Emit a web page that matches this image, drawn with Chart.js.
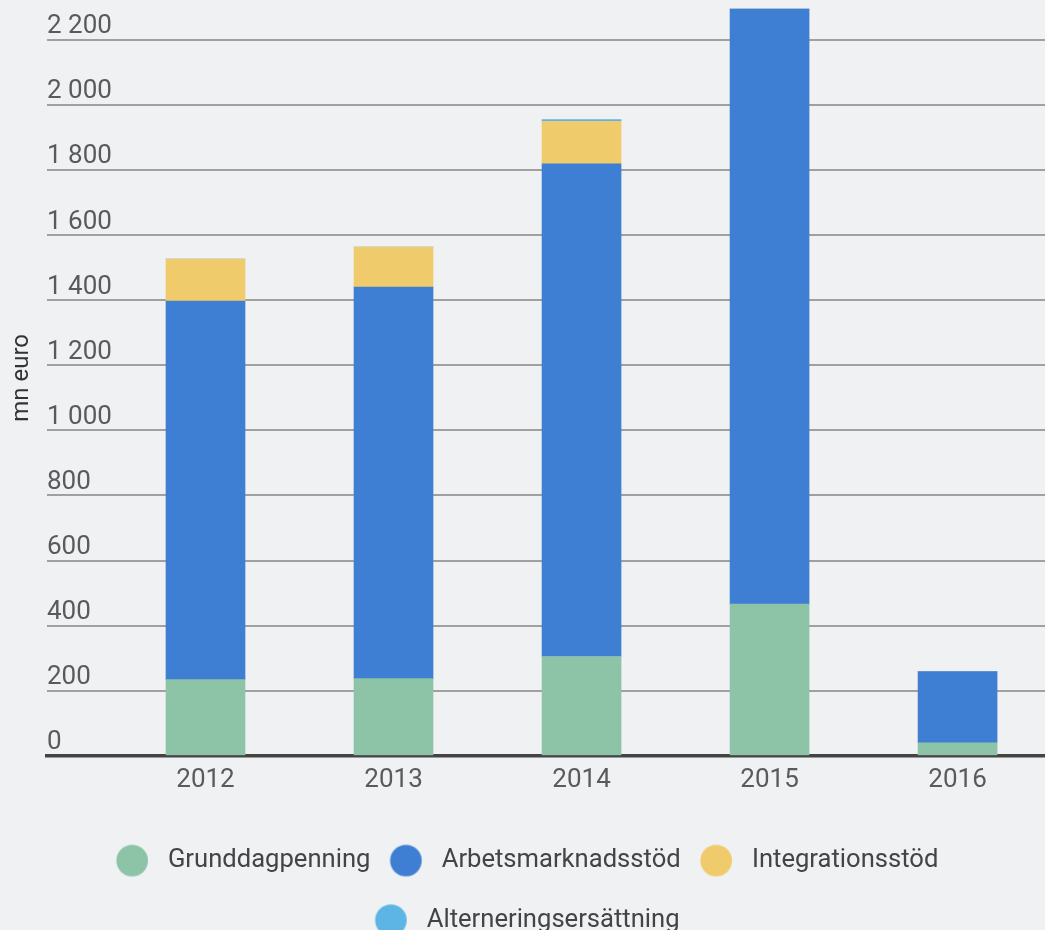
<!DOCTYPE html>
<html>
<head>
<meta charset="utf-8">
<script src="https://cdn.jsdelivr.net/npm/chart.js@4/dist/chart.umd.min.js"></script>
<style>
  html, body { margin: 0; padding: 0; background: #f0f1f3; overflow: hidden; }
  /* the reference cuts the second legend row, so the chart is a bit taller than the window */
  #wrap { width: 1045px; height: 943px; }
</style>
</head>
<body>
<div id="wrap"><canvas id="chart"></canvas></div>
<script>
// chart data
const years = [2012, 2013, 2014, 2015, 2016];
const grunddagpenning = [234, 237, 305, 466, 40];
const arbetsmarknadsstod = [1163, 1203, 1514, 1828, 219];
const integrationsstod = [129, 123, 130, 0, 0];
const alterneringsersattning = [0, 0, 6, 0, 0];
const yTicks = [0, 200, 400, 600, 800, 1000, 1200, 1400, 1600, 1800, 2000, 2200];

const seriesNames = ["Grunddagpenning", "Arbetsmarknadsstöd", "Integrationsstöd", "Alterneringsersättning"];
const seriesColors = ["#8dc3a7", "#3f7fd3", "#efcb6b", "#5db5e5"];

// legend dot, drawn off-centre so the gap to the label matches
function makeDot(color) {
  const c = document.createElement("canvas");
  c.width = 64;
  c.height = 40;
  const g = c.getContext("2d");
  g.fillStyle = color;
  g.beginPath();
  g.arc(21.25, 20, 15.8, 0, Math.PI * 2);
  g.fill();
  return c;
}

function toPoints(values) {
  return years.map((yr, i) => ({ x: yr, y: values[i] }));
}

const allValues = [grunddagpenning, arbetsmarknadsstod, integrationsstod, alterneringsersattning];
const datasets = allValues.map((vals, i) => ({
  label: seriesNames[i],
  data: toPoints(vals),
  backgroundColor: seriesColors[i],
  borderWidth: 0,
  barThickness: 79,
}));

function fmt(v) {
  return String(v).replace(/\B(?=(\d{3})+(?!\d))/g, " ");
}

// nudge the legend a little to the right, like the original
const legendShift = {
  id: "legendShift",
  beforeDraw(chart) {
    const lg = chart.legend;
    if (!lg) return;
    lg.left = 12;
    lg.right = chart.width + 12;
  },
};

Chart.defaults.font.family = "Roboto, 'Noto Sans', sans-serif";

new Chart(document.getElementById("chart"), {
  type: "bar",
  data: { datasets: datasets },
  plugins: [legendShift],
  options: {
    responsive: true,
    maintainAspectRatio: false,
    animation: false,
    layout: { padding: 0 },
    plugins: {
      tooltip: { enabled: false },
      legend: {
        position: "bottom",
        labels: {
          usePointStyle: true,
          pointStyleWidth: 24.5,
          padding: 34,
          color: "#444",
          font: { size: 25.6 },
          generateLabels(chart) {
            const items = Chart.defaults.plugins.legend.labels.generateLabels(chart);
            items.forEach((it, i) => { it.pointStyle = makeDot(seriesColors[i]); });
            return items;
          },
        },
      },
    },
    scales: {
      x: {
        type: "linear",
        stacked: true,
        offset: false,
        min: 2011.157,
        max: 2016.465,
        grid: { display: false, drawTicks: false },
        border: { display: true, color: "#444", width: 3.5 },
        afterBuildTicks(scale) {
          scale.ticks = years.map(v => ({ value: v }));
        },
        afterFit(scale) {
          scale.height = 58;
        },
        ticks: {
          color: "#5a5a5a",
          font: { size: 26 },
          padding: 9,
          callback: v => String(v),
        },
      },
      y: {
        stacked: true,
        min: 0,
        max: 2322,
        afterBuildTicks(scale) {
          scale.ticks = yTicks.map(v => ({ value: v }));
        },
        afterFit(scale) {
          scale.width = 47;
          scale.paddingTop = 0;
          scale.paddingBottom = 0;
        },
        grid: { color: "#a0a0a0", lineWidth: 2, drawTicks: false },
        border: { display: false },
        title: {
          display: true,
          text: "mn euro",
          color: "#333",
          font: { size: 24 },
          padding: { top: 8, bottom: 0 },
        },
        ticks: {
          mirror: true,
          padding: 0,
          labelOffset: -13,
          color: "#5a5a5a",
          font: { size: 26 },
          callback: v => fmt(v),
        },
      },
    },
  },
});
</script>
</body>
</html>
